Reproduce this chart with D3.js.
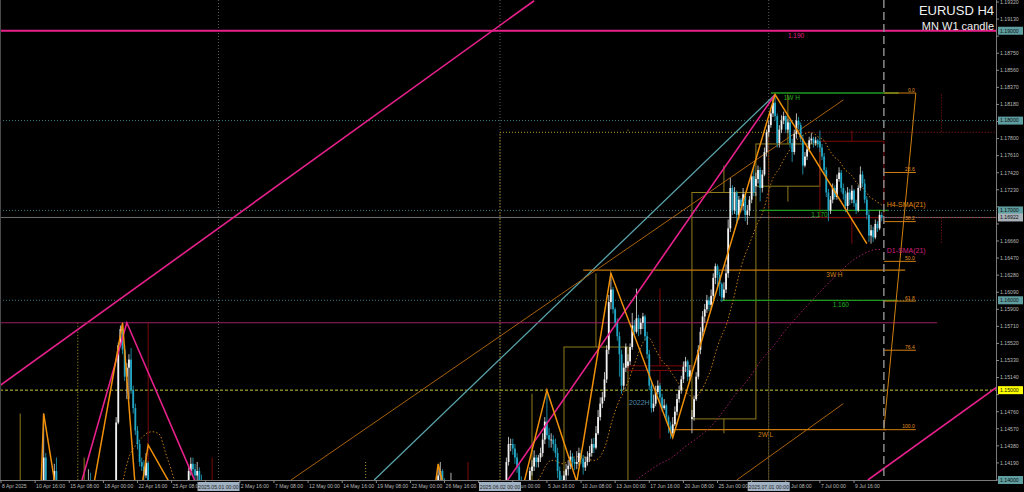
<!DOCTYPE html>
<html><head><meta charset="utf-8">
<script src="https://cdn.jsdelivr.net/npm/d3@7/dist/d3.min.js"></script>
<style>html,body{margin:0;padding:0;background:#000;overflow:hidden}svg{display:block}</style>
</head><body><svg id="c" width="1024" height="492"></svg>
<script>
// ---------------- DATA ----------------
const symbolTitle = "EURUSD H4";
const subTitle = "MN W1 candle";
const tradingDays = [
"2025-04-08","2025-04-09","2025-04-10","2025-04-11","2025-04-14","2025-04-15","2025-04-16","2025-04-17","2025-04-18",
"2025-04-21","2025-04-22","2025-04-23","2025-04-24","2025-04-25","2025-04-28","2025-04-29","2025-04-30",
"2025-05-01","2025-05-02","2025-05-05","2025-05-06","2025-05-07","2025-05-08","2025-05-09","2025-05-12","2025-05-13",
"2025-05-14","2025-05-15","2025-05-16","2025-05-19","2025-05-20","2025-05-21","2025-05-22","2025-05-23","2025-05-26",
"2025-05-27","2025-05-28","2025-05-29","2025-05-30",
"2025-06-02","2025-06-03","2025-06-04","2025-06-05","2025-06-06","2025-06-09","2025-06-10","2025-06-11","2025-06-12",
"2025-06-13","2025-06-16","2025-06-17","2025-06-18","2025-06-19","2025-06-20","2025-06-23","2025-06-24","2025-06-25",
"2025-06-26","2025-06-27","2025-06-30",
"2025-07-01","2025-07-02","2025-07-03","2025-07-04","2025-07-07","2025-07-08","2025-07-09","2025-07-10","2025-07-11"];
const barHours = [0,4,8,12,16,20];
// prices in pips above 1.1000 (price = 1.1 + pips/10000), one row per trading day
const closePips = [
-80,-70,-55,-45,-50,-40, -20,10,50,60,-10,-50, -20,20,60,120,190,200, 280,380,425,395,380,357,
380,410,395,370,355,350, 345,330,310,300,290,285, 290,300,320,360,390,395, 385,370,360,355,365,365,
370,372,375,375,378,380, 464,550,568,545,515,525, 534,500,480,455,440,420, 415,405,419,395,385,380,
370,360,365,380,385,390, 385,378,370,365,368,363, 368,375,380,395,410,418, 412,405,410,400,395,392,
388,380,385,370,350,328, 320,310,300,290,295,290, 295,310,315,320,305,300, 310,320,330,325,320,315,
320,330,340,360,365,370, 365,360,355,340,330,300, 290,280,270,250,230,225, 230,245,240,235,245,250,
210,180,150,120,100,90, 100,110,130,170,180,185, 200,215,230,255,200,175, 160,150,140,160,180,185,
190,195,170,150,145,165, 180,200,230,250,245,240, 235,220,215,250,270,285, 290,300,320,340,345,330,
325,315,300,280,285,280, 290,300,310,340,355,365, 385,405,410,398,390,385, 385,395,380,360,340,325,
320,315,310,300,295,290, 260,240,220,300,350,365, 355,360,340,335,345,350, 355,370,385,420,440,440,
435,425,415,400,385,375, 380,390,410,415,425,420, 425,430,445,465,450,445, 445,440,430,410,400,395,
405,412,416,426,420,418, 420,430,424,414,420,426, 430,440,436,452,470,485, 492,512,545,598,612,590,
575,560,540,505,525,548, 532,548,572,565,580,568, 575,582,560,540,505,480, 485,498,505,492,480,483,
470,460,452,462,476,490, 500,512,526,532,515,522, 470,490,515,545,565,582, 590,600,595,605,625,638,
628,618,603,612,630,680, 725,700,720,695,712,705, 718,695,700,712,738,720, 735,745,725,740,765,787,
795,808,820,805,775,790, 800,805,790,798,775,765, 785,800,795,780,750,760, 768,778,780,775,778,774,
770,760,745,720,700,712, 725,715,735,742,725,718, 705,720,712,722,708,700, 725,740,730,712,695,672,
678,670,685,680,695,692];
const highPips = [
-75,-60,-45,-35,-38,-30, -10,20,60,100,65,0, -5,30,75,135,200,215, 290,400,474,430,400,385,
385,418,425,400,375,360, 355,350,335,315,305,296, 296,305,325,366,396,412, 408,392,375,366,372,370,
376,376,378,380,382,384, 470,553,572,575,550,530, 540,547,505,485,460,445, 425,422,430,421,400,392,
384,374,370,385,392,398, 395,390,382,374,375,372, 372,380,386,400,414,425, 425,418,420,414,406,400,
396,392,390,388,372,352, 332,326,314,305,300,298, 300,316,322,328,326,310, 315,325,336,338,330,326,
325,335,346,368,372,378, 372,370,366,360,345,335, 305,296,288,275,255,236, 235,250,256,245,250,258,
260,215,186,155,125,105, 105,118,135,176,190,192, 205,222,240,265,258,205, 180,168,155,166,186,192,
196,202,198,176,158,170, 186,206,235,258,256,250, 246,240,226,256,276,290, 292,306,325,346,355,350,
338,332,318,305,292,290, 294,305,316,352,362,370, 392,414,420,412,402,394, 392,408,398,384,362,345,
330,328,322,316,306,302, 292,266,250,305,356,376, 370,372,365,346,352,356, 360,375,392,425,448,446,
446,440,430,418,404,390, 384,395,414,422,433,428, 428,436,452,470,496,458, 452,450,446,436,415,405,
410,418,422,433,430,424, 432,436,434,428,426,432, 438,446,447,460,478,492, 498,520,550,606,630,615,
592,580,565,545,530,552, 540,552,586,578,613,584, 580,586,584,565,545,510, 495,505,511,508,496,490,
485,472,465,470,482,496, 505,516,532,537,534,528, 478,494,520,550,570,588, 596,606,604,612,630,641,
640,632,620,620,640,690, 736,728,726,722,716,714, 725,720,706,716,742,750, 742,750,748,745,770,790,
800,812,824,829,808,795, 806,810,806,802,800,780, 790,808,804,798,784,765, 772,782,786,782,782,780,
789,774,764,748,724,716, 730,728,740,748,745,730, 722,726,724,728,724,712, 728,749,744,735,716,700,
684,682,690,688,700,698];
const lowPips = [
-95,-85,-75,-60,-60,-55, -50,-25,5,40,-20,-60, -60,-25,15,55,115,180, 190,270,378,390,370,350,
360,375,390,365,345,343, 340,325,305,275,268,280, 282,286,298,318,356,385, 380,365,352,345,352,358,
362,366,370,371,372,375, 375,462,548,540,510,490, 490,496,474,450,434,415, 410,400,402,390,376,372,
360,352,355,362,376,380, 380,372,362,358,360,356, 356,364,370,378,392,405, 405,398,400,394,388,385,
384,375,376,362,340,320, 316,304,292,280,284,284, 285,292,305,312,298,294, 295,305,316,318,312,310,
310,315,326,336,352,360, 358,352,348,334,322,292, 285,272,262,245,215,218, 220,226,232,226,230,240,
205,175,145,110,92,80, 85,95,105,126,165,175, 182,195,210,226,195,168, 150,140,130,135,156,176,
182,186,164,140,135,140, 160,175,195,225,238,234, 228,212,205,210,245,265, 280,286,296,316,332,325,
318,308,292,265,274,275, 275,286,295,305,335,350, 362,382,400,392,385,380, 378,380,372,355,334,318,
315,305,300,292,286,282, 250,232,210,218,296,345, 340,348,332,325,330,338, 340,350,366,383,416,432,
428,418,408,392,378,368, 370,376,386,405,410,414, 414,420,426,440,446,436, 436,432,425,402,392,388,
390,400,405,412,414,411, 412,416,418,406,410,416, 420,426,430,434,450,466, 480,488,508,540,590,585,
570,555,515,496,500,520, 525,528,545,560,563,560, 562,568,555,535,500,475, 476,482,495,485,476,478,
465,452,446,450,460,472, 486,496,508,520,510,510, 452,466,488,512,540,560, 575,586,588,590,600,618,
615,605,598,600,608,625, 676,695,696,684,690,698, 700,688,684,694,708,716, 716,730,710,720,738,760,
782,792,804,800,770,770, 786,796,786,786,770,754, 762,780,790,776,740,748, 756,765,774,770,772,770,
765,756,740,715,688,696, 708,712,712,732,720,712, 698,700,706,708,704,696, 698,722,726,708,690,665,
663,665,668,676,678,688];
// opening price of each week (Monday gap), in pips
const weekOpenPips = [-90,365,380,363,300,250,165,365,350,395,527,468,727,777];
// horizontal level objects
const levelPrices = [1.1900, 1.18307, 1.1700, 1.16335, 1.1600, 1.1575, 1.1456];
const levelNames  = ["1.190", "1W H", "1.170", "3W H", "1.160", "", "2W L"];
const levelFromBar = [null, 361, 356, 273, 338, null, 315];
const levelToBar   = [null, 421, 416, 424, 420, 439, 415];
const levelTextBar = [369, 367, 380, 387, 390, null, 355];
const levelKinds   = ["pink", "green", "green", "amber", "green", "plum", "amber"];
const roundLevels = [1.18, 1.17, 1.16];
const yellowLevel = 1.15;
const currentPrice = 1.16922;
const axisMarks = [1.19, 1.18, 1.17, 1.16922, 1.16, 1.15, 1.14];
const axisMarkKinds = ["teal","teal","teal","grey","teal","yellow","teal"];
const textMarks = [{text:"2022H", price:1.1495, bar:294.5}];
// zigzag pivots [bar, pips]
const zigzagOrange = [[12,-60],[20,474],[34,268],[57,575],[64,360],[69,439],[95,330],[147,90],[200,330],[205,418],[214,330],[224,215],[242,366],[256,500],[270,398],[286,630],[315,447],[363,829],[406,663]];
const zigzagPink = [[26,300],[59,575],[147,90],[363,829]];
// trend lines [bar, pips]
const channelUpper = [[-0.5,505],[250,933.4]];
const channelLower = [[406.5,400],[467,503.5]];
const tealLine = [[175,400],[363,829]];
const amberLineA = [[136,400],[395,823]];
const amberLineB = [[345,400],[395,485]];
// fibonacci retracement
const fibLow = {bar:414, price:1.1456};
const fibHigh = {bar:429, price:1.18307};
const fibLevels = [0, 23.6, 38.2, 50.0, 61.8, 76.4, 100.0];
const smaPeriod = 21;

// ---------------- BUILD ----------------
const P = v => 1.1 + v/10000;
const H4 = 4*3600e3, DAY = 864e5;
const bars = [];
tradingDays.forEach((ds,d)=>{
  const [Y,M,D] = ds.split('-').map(Number);
  barHours.forEach((h,k)=>{
    const i = d*6+k;
    bars.push({i, day:d, t:Date.UTC(Y,M-1,D,h), c:P(closePips[i]), h:P(highPips[i]), l:P(lowPips[i])});
  });
});
let wk=-1, prevMon=null;
bars.forEach((b,i)=>{
  const dt = new Date(b.t);
  const mon = b.t - ((dt.getUTCDay()+6)%7)*DAY - dt.getUTCHours()*36e5;
  if (mon!==prevMon){ wk++; prevMon=mon; b.o = P(weekOpenPips[wk]); } else b.o = bars[i-1].c;
  b.week = wk; b.mon = mon;
  b.h = Math.max(b.h,b.o,b.c); b.l = Math.min(b.l,b.o,b.c);
});
const barTimes = bars.map(b=>b.t);
const lastI = bars.length-1;
function timeToBar(t){
  const first = barTimes[0], last = barTimes[lastI];
  if (t > last) return lastI + (t-last)/H4;
  if (t >= first) return d3.bisectLeft(barTimes, t);
  let n=0; for(let s=t; s<first; s+=H4){ const wd=new Date(s).getUTCDay(); if(wd>=1&&wd<=5) n++; }
  return -n;
}
// SMA H4
bars.forEach((b,i)=>{ if(i>=smaPeriod-1){ let s=0; for(let k=i-smaPeriod+1;k<=i;k++) s+=bars[k].c; b.sma=s/smaPeriod; } });
// D1 SMA (one value per day, placed at the day's centre)
const dailyClose = tradingDays.map((_,d)=>bars[d*6+5].c);
const dailySma = [];
dailyClose.forEach((c,d)=>{ if(d>=smaPeriod-1){ dailySma.push({bar:d*6+2.5, v:d3.mean(dailyClose.slice(d-smaPeriod+1,d+1))}); } });
dailySma.push({bar:lastI, v:dailySma[dailySma.length-1].v});

// ---------------- SCALES ----------------
const W=1024, Hh=492, plotR=996, plotB=480;
const x = d3.scaleLinear().domain([0, lastI]).range([1, 1+lastI*2.1325]);
const y = d3.scaleLinear().domain([1.14, 1.1932]).range([480, 2]);
const yp = v => y(P(v));
const svg = d3.select('#c');
svg.append('rect').attr('width',W).attr('height',Hh).attr('fill','#000');
const defs = svg.append('defs');
defs.append('clipPath').attr('id','clip').append('rect').attr('x',0).attr('y',0).attr('width',plotR).attr('height',plotB);
const g = svg.append('g').attr('clip-path','url(#clip)');
const FONT = "'Liberation Sans', Arial, sans-serif";
const COL = {pink:'#e8208c', green:'#1f9a1f', amber:'#c8780a', plum:'#9a1e62', teal:'#5f9ea0', grey:'#a8b0b8', yellow:'#ffff00'};
const BULL='#f2f2f2', BEAR='#22a6c6', WBULL='#8f7c1e', WBEAR='#7c0a0a', MBULL='#b59a22', MBEAR='#9a1a1a';

// month separators
const months = d3.groups(bars, b=>new Date(b.t).getUTCMonth());
months.slice(1).forEach(([m,bs])=>{
  const xi = x(bs[0].i);
  g.append('line').attr('x1',xi).attr('x2',xi).attr('y1',0).attr('y2',plotB).attr('stroke','#5a5a5a').attr('stroke-dasharray','1,2');
});
// round-number levels
roundLevels.forEach(v=>g.append('line').attr('x1',0).attr('x2',plotR).attr('y1',y(v)).attr('y2',y(v)).attr('stroke','#3f7f80').attr('stroke-dasharray','1,2'));
g.append('line').attr('x1',0).attr('x2',plotR).attr('y1',y(yellowLevel)).attr('y2',y(yellowLevel)).attr('stroke','#c4cc3a').attr('stroke-dasharray','3,2');
g.append('line').attr('x1',0).attr('x2',plotR).attr('y1',y(currentPrice)).attr('y2',y(currentPrice)).attr('stroke','#6e6e6e');

// MN candles (dotted)
months.forEach(([m,bs])=>{
  const t0 = Date.UTC(2025,m,1), t1 = Date.UTC(2025,m+1,1);
  const i0 = timeToBar(t0), i1 = timeToBar(t1), im = timeToBar((t0+t1)/2);
  const o = bs[0].o, c = bs[bs.length-1].c, hi = d3.max(bs,b=>b.h), lo = d3.min(bs,b=>b.l);
  const col = c>=o ? MBULL : MBEAR;
  const top = Math.max(o,c), bot = Math.min(o,c);
  g.append('rect').attr('x',x(i0)).attr('width',x(i1)-x(i0)).attr('y',y(top)).attr('height',y(bot)-y(top))
    .attr('fill','none').attr('stroke',col).attr('stroke-dasharray','1,2');
  g.append('line').attr('x1',x(im)).attr('x2',x(im)).attr('y1',y(hi)).attr('y2',y(top)).attr('stroke',col).attr('stroke-dasharray','1,2');
  g.append('line').attr('x1',x(im)).attr('x2',x(im)).attr('y1',y(bot)).attr('y2',y(lo)).attr('stroke',col).attr('stroke-dasharray','1,2');
});
// W1 candles
d3.groups(bars, b=>b.week).forEach(([w,bs])=>{
  const mon = bs[0].mon;
  const i0 = timeToBar(mon), i1 = timeToBar(mon+5*DAY), im = timeToBar(mon+2.5*DAY);
  const o = bs[0].o, c = bs[bs.length-1].c, hi = d3.max(bs,b=>b.h), lo = d3.min(bs,b=>b.l);
  const col = c>=o ? WBULL : WBEAR;
  const top = Math.max(o,c), bot = Math.min(o,c);
  g.append('rect').attr('x',x(i0)).attr('width',x(i1)-x(i0)).attr('y',y(top)).attr('height',Math.max(1,y(bot)-y(top)))
    .attr('fill','none').attr('stroke',col).attr('stroke-width',1);
  g.append('line').attr('x1',x(im)).attr('x2',x(im)).attr('y1',y(hi)).attr('y2',y(top)).attr('stroke',col);
  g.append('line').attr('x1',x(im)).attr('x2',x(im)).attr('y1',y(bot)).attr('y2',y(lo)).attr('stroke',col);
});

// trend lines
const lineP = d3.line().x(d=>x(d[0])).y(d=>yp(d[1]));
g.append('path').attr('d',lineP(channelUpper)).attr('stroke',COL.pink).attr('stroke-width',1.6).attr('fill','none');
g.append('path').attr('d',lineP(channelLower)).attr('stroke',COL.pink).attr('stroke-width',1.6).attr('fill','none');
g.append('path').attr('d',lineP(tealLine)).attr('stroke','#5aa3ab').attr('stroke-width',1.3).attr('fill','none');
g.append('path').attr('d',lineP(amberLineA)).attr('stroke','#a8610c').attr('stroke-width',1).attr('fill','none');
g.append('path').attr('d',lineP(amberLineB)).attr('stroke','#a8610c').attr('stroke-width',1).attr('fill','none');

// levels
levelPrices.forEach((v,k)=>{
  const kind = levelKinds[k];
  const x1 = levelFromBar[k]==null ? 0 : x(levelFromBar[k]);
  const x2 = levelToBar[k]==null ? plotR : x(levelToBar[k]);
  g.append('line').attr('x1',x1).attr('x2',x2).attr('y1',y(v)).attr('y2',y(v))
    .attr('stroke',COL[kind]).attr('stroke-width', kind==='pink'?2:(kind==='plum'?1:1.3));
  if (levelNames[k]) g.append('text').attr('x',x(levelTextBar[k])).attr('y',y(v)+7)
    .attr('fill', kind==='pink'? '#e0208a' : kind==='green' ? '#22b022' : '#d08212')
    .attr('font-family',FONT).attr('font-size',6.5).text(levelNames[k]);
});
textMarks.forEach(t=>g.append('text').attr('x',x(t.bar)).attr('y',y(t.price)+10).attr('fill','#4f86a6').attr('font-family',FONT).attr('font-size',7).text(t.text));

// SMA lines
const smaLine = d3.line().defined(b=>b.sma!=null).x(b=>x(b.i)).y(b=>y(b.sma));
g.append('path').attr('d',smaLine(bars)).attr('stroke','#c67a12').attr('stroke-width',1).attr('stroke-dasharray','1.5,2').attr('fill','none');
const dLine = d3.line().x(d=>x(d.bar)).y(d=>y(d.v)).curve(d3.curveMonotoneX);
g.append('path').attr('d',dLine(dailySma)).attr('stroke','#a01e66').attr('stroke-width',1).attr('stroke-dasharray','1.5,2').attr('fill','none');

// candles
const cg = g.append('g');
bars.forEach(b=>{
  const bull = b.c>=b.o, col = bull?BULL:BEAR;
  cg.append('line').attr('x1',x(b.i)).attr('x2',x(b.i)).attr('y1',y(b.h)).attr('y2',y(b.l)).attr('stroke', bull?'#c8c8c8':'#1d93ad').attr('stroke-width',0.9);
  const t = y(Math.max(b.o,b.c)), bt = y(Math.min(b.o,b.c));
  cg.append('rect').attr('x',x(b.i)-0.9).attr('width',1.8).attr('y',t).attr('height',Math.max(0.8,bt-t)).attr('fill',col);
});

// zigzags
g.append('path').attr('d',lineP(zigzagPink)).attr('stroke',COL.pink).attr('stroke-width',1.6).attr('fill','none');
g.append('path').attr('d',lineP(zigzagOrange)).attr('stroke','#f0900a').attr('stroke-width',1.5).attr('fill','none');

// fibonacci
const fx1 = x(fibLow.bar), fx2 = x(fibHigh.bar);
g.append('line').attr('x1',fx1).attr('y1',y(fibLow.price)).attr('x2',fx2).attr('y2',y(fibHigh.price)).attr('stroke','#d08010').attr('stroke-width',1);
fibLevels.forEach(f=>{
  const v = fibHigh.price - (fibHigh.price-fibLow.price)*f/100;
  g.append('line').attr('x1',fx1).attr('x2',fx2).attr('y1',y(v)).attr('y2',y(v)).attr('stroke','#d08010').attr('stroke-width',1);
  g.append('text').attr('x',fx2-1).attr('y',y(v)-1.5).attr('text-anchor','end').attr('fill','#e09020').attr('font-family',FONT).attr('font-size',5).text(f.toFixed(1));
});
// SMA labels
const lastB = bars[lastI];
g.append('text').attr('x',x(lastI)+5).attr('y',y(lastB.sma)+2).attr('fill','#e0890f').attr('font-family',FONT).attr('font-size',7).text('H4-SMA(21)');
g.append('text').attr('x',x(lastI)+5).attr('y',y(dailySma[dailySma.length-1].v)+3).attr('fill','#d81f7f').attr('font-family',FONT).attr('font-size',7).text('D1-SMA(21)');
// now line
const nx = x(lastI+1);
g.append('line').attr('x1',nx).attr('x2',nx).attr('y1',0).attr('y2',plotB).attr('stroke','#8a8a8a').attr('stroke-width',1.5).attr('stroke-dasharray','8,4');

// title
svg.append('text').attr('x',994).attr('y',15).attr('text-anchor','end').attr('fill','#f0f0f0').attr('font-family',FONT).attr('font-size',13).text(symbolTitle);
svg.append('text').attr('x',994).attr('y',30).attr('text-anchor','end').attr('fill','#f0f0f0').attr('font-family',FONT).attr('font-size',11).text(subTitle);

// frame
svg.append('line').attr('x1',plotR+0.5).attr('x2',plotR+0.5).attr('y1',0).attr('y2',plotB+1).attr('stroke','#7a7a7a');
svg.append('line').attr('x1',0).attr('x2',plotR+1).attr('y1',plotB+0.5).attr('y2',plotB+0.5).attr('stroke','#7a7a7a');
svg.append('line').attr('x1',0.5).attr('x2',0.5).attr('y1',0).attr('y2',plotB).attr('stroke','#4a4a4a');

// right axis
const yTicks = d3.range(0,29).map(k=>+(1.14+k*0.0019).toFixed(5));
const ra = svg.append('g');
yTicks.forEach(v=>{
  ra.append('line').attr('x1',plotR).attr('x2',plotR+3).attr('y1',y(v)).attr('y2',y(v)).attr('stroke','#8a8a8a');
  if (axisMarks.some(m=>Math.abs(y(m)-y(v))<7)) return;
  ra.append('text').attr('x',plotR+4).attr('y',y(v)).attr('dy','0.35em').attr('fill','#b8b8b8').attr('font-family',FONT).attr('font-size',5.2).text(v.toFixed(5));
});
axisMarks.forEach((v,k)=>{
  const yy = Math.min(y(v), 487);
  ra.append('rect').attr('x',plotR+2).attr('y',yy-4).attr('width',25).attr('height',8).attr('fill',COL[axisMarkKinds[k]]);
  ra.append('text').attr('x',plotR+4).attr('y',yy).attr('dy','0.35em').attr('fill','#101010').attr('font-family',FONT).attr('font-size',5.2).text(v.toFixed(5));
});
// bottom axis
const sepBars = months.slice(1).map(([m,bs])=>bs[0].i);
const boxW = 42;
// clip region for time labels: everything except the separator date boxes
const lc = defs.append('clipPath').attr('id','lblclip');
const edges = [0, ...sepBars.flatMap(s=>[x(s)-boxW/2, x(s)+boxW/2]), W];
for (let k=0;k<edges.length;k+=2) lc.append('rect').attr('x',edges[k]).attr('y',481).attr('width',edges[k+1]-edges[k]).attr('height',11);
const xa = svg.append('g');
const xl = xa.append('g').attr('clip-path','url(#lblclip)');
const fmtT = d3.utcFormat('%-d %b %H:%M');
d3.range(0, lastI, 16).forEach(i=>{
  xa.append('line').attr('x1',x(i)).attr('x2',x(i)).attr('y1',plotB).attr('y2',plotB+3).attr('stroke','#8a8a8a');
  const start = x(i)+1;
  // a label that starts under a date box is hidden by it in the reference
  if (sepBars.some(s=>start > x(s)-boxW/2 && start+30 < x(s)+boxW/2)) return;
  xl.append('text').attr('x',start).attr('y',488).attr('fill','#b8b8b8').attr('font-family',FONT).attr('font-size',5.1)
    .text(i===0 ? d3.utcFormat('%-d %b %Y')(new Date(bars[0].t)) : fmtT(new Date(bars[i].t)));
});
const fmtBox = d3.utcFormat('%Y.%m.%d %H:%M');
sepBars.forEach(s=>{
  const xi = x(s);
  xa.append('rect').attr('x',xi-boxW/2).attr('y',482).attr('width',boxW).attr('height',9).attr('fill','#9fb1c2');
  xa.append('text').attr('x',xi).attr('y',488.5).attr('text-anchor','middle').attr('fill','#2a2a2a').attr('font-family',FONT).attr('font-size',5.2).text(fmtBox(new Date(bars[s].t)));
});
</script></body></html>
